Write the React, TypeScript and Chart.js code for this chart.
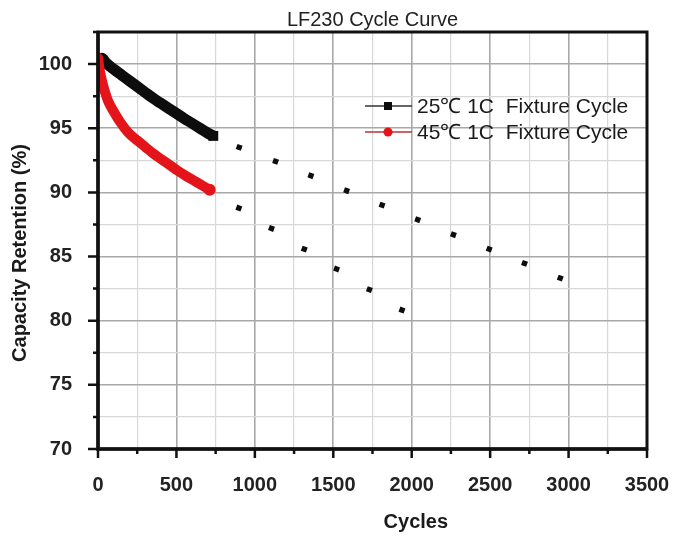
import React, { useEffect, useRef } from "react";
import { Chart, registerables } from "chart.js";

Chart.register(...registerables);

const chartTitle = "LF230 Cycle Curve";
const xAxisTitle = "Cycles";
const yAxisTitle = "Capacity Retention (%)";
const seriesNames = ["25℃ 1C  Fixture Cycle", "45℃ 1C  Fixture Cycle"];

const xTickLabels = [0, 500, 1000, 1500, 2000, 2500, 3000, 3500];
const yTickLabels = [70, 75, 80, 85, 90, 95, 100];

// 25℃ measured curve
const cycles25 = [0, 25, 50, 100, 150, 200, 250, 300, 350, 400, 450, 500, 550, 600, 650, 700, 735];
const retention25 = [100.3, 100.45, 100.1, 99.6, 99.15, 98.7, 98.25, 97.8, 97.35, 96.95, 96.55, 96.15, 95.75, 95.38, 95.0, 94.62, 94.4];

// 45℃ measured curve
const cycles45 = [0, 10, 25, 45, 65, 100, 140, 190, 250, 300, 350, 405, 460, 510, 565, 620, 670, 712];
const retention45 = [100.5, 99.6, 98.7, 97.8, 97.1, 96.3, 95.5, 94.7, 94.05, 93.55, 93.05, 92.57, 92.1, 91.67, 91.25, 90.86, 90.5, 90.2];

// projected (dotted) points
const projCycles25 = [900, 1132, 1357, 1585, 1811, 2038, 2266, 2494, 2719, 2947];
const projRetention25 = [93.51, 92.42, 91.3, 90.13, 89.01, 87.87, 86.7, 85.58, 84.47, 83.32];
const projCycles45 = [898, 1106, 1315, 1521, 1730, 1938];
const projRetention45 = [88.78, 87.19, 85.58, 84.03, 82.42, 80.83];

const FONT = '"Liberation Sans", Arial, Helvetica, sans-serif';
const BLACK = "#0d0d0d";
const RED = "#e3151b";

const toPoints = (xs: number[], ys: number[]) => xs.map((x, i) => ({ x, y: ys[i] }));

const decorPlugin = {
  id: "decor",
  afterDraw(chart: any) {
    const { ctx, chartArea: a, scales } = chart;
    const xs = scales.x;
    const ys = scales.y;
    ctx.save();
    ctx.strokeStyle = "#111";
    ctx.lineCap = "butt";

    // tick marks
    ctx.lineWidth = 2.5;
    ctx.beginPath();
    xs.ticks.forEach((t: any) => {
      const px = xs.getPixelForValue(t.value);
      const len = xTickLabels.includes(t.value) ? 9 : 5;
      ctx.moveTo(px, a.bottom);
      ctx.lineTo(px, a.bottom + len);
    });
    ys.ticks.forEach((t: any) => {
      const py = ys.getPixelForValue(t.value);
      const len = yTickLabels.includes(t.value) ? 10 : 5;
      ctx.moveTo(a.left, py);
      ctx.lineTo(a.left - len, py);
    });
    ctx.stroke();

    // frame
    ctx.lineWidth = 3;
    ctx.strokeRect(a.left, a.top, a.right - a.left, a.bottom - a.top);
    ctx.lineWidth = 3.5;
    ctx.beginPath();
    ctx.moveTo(a.left, a.top);
    ctx.lineTo(a.left, a.bottom);
    ctx.lineTo(a.right, a.bottom);
    ctx.stroke();

    // legend
    const rows = [
      { line: "#333", color: BLACK, style: "rect", dy: 74 },
      { line: "#b83333", color: RED, style: "circle", dy: 100 },
    ];
    ctx.font = `21px ${FONT}`;
    ctx.textAlign = "left";
    ctx.textBaseline = "middle";
    rows.forEach((r, i) => {
      const y = a.top + r.dy;
      const x0 = a.left + 267;
      ctx.strokeStyle = r.line;
      ctx.lineWidth = 1.6;
      ctx.beginPath();
      ctx.moveTo(x0, y);
      ctx.lineTo(x0 + 47, y);
      ctx.stroke();
      ctx.fillStyle = r.color;
      if (r.style === "rect") {
        ctx.fillRect(x0 + 23 - 4, y - 4, 8, 8);
      } else {
        ctx.beginPath();
        ctx.arc(x0 + 23, y, 4.5, 0, Math.PI * 2);
        ctx.fill();
      }
      ctx.fillStyle = "#1a1a1a";
      ctx.fillText(seriesNames[i], x0 + 52, y + 1);
    });

    // axis titles
    ctx.fillStyle = "#1a1a1a";
    ctx.font = `bold 20px ${FONT}`;
    ctx.textAlign = "center";
    ctx.textBaseline = "middle";
    ctx.fillText(xAxisTitle, a.left + (a.right - a.left) * 0.579, a.bottom + 73);
    ctx.save();
    ctx.translate(20, a.top + (a.bottom - a.top) * 0.53);
    ctx.rotate(-Math.PI / 2);
    ctx.fillText(yAxisTitle, 0, 0);
    ctx.restore();

    ctx.restore();
  },
};

export default function App() {
  const canvasRef = useRef<HTMLCanvasElement | null>(null);

  useEffect(() => {
    if (!canvasRef.current) return;
    const last25 = cycles25.length - 1;
    const last45 = cycles45.length - 1;
    const chart = new Chart(canvasRef.current, {
      type: "line",
      data: {
        datasets: [
          {
            label: seriesNames[1],
            data: toPoints(cycles45, retention45),
            borderColor: RED,
            backgroundColor: RED,
            borderWidth: 10,
            borderCapStyle: "round",
            borderJoinStyle: "round",
            cubicInterpolationMode: "monotone",
            pointRadius: (c: any) => (c.dataIndex === last45 ? 6 : 0),
            pointStyle: "circle",
            pointBorderWidth: 0,
          },
          {
            label: seriesNames[0],
            data: toPoints(cycles25, retention25),
            borderColor: BLACK,
            backgroundColor: BLACK,
            borderWidth: 11,
            borderCapStyle: "butt",
            borderJoinStyle: "round",
            cubicInterpolationMode: "monotone",
            pointRadius: (c: any) => (c.dataIndex === last25 ? 7 : 0),
            pointStyle: "rect",
            pointBorderWidth: 0,
          },
          {
            label: "proj25",
            data: toPoints(projCycles25, projRetention25),
            showLine: false,
            borderColor: BLACK,
            backgroundColor: BLACK,
            pointStyle: "rect",
            pointRadius: 3.8,
            pointRotation: 20,
            pointBorderWidth: 0,
          },
          {
            label: "proj45",
            data: toPoints(projCycles45, projRetention45),
            showLine: false,
            borderColor: BLACK,
            backgroundColor: BLACK,
            pointStyle: "rect",
            pointRadius: 3.8,
            pointRotation: 20,
            pointBorderWidth: 0,
          },
        ],
      },
      options: {
        responsive: false,
        animation: false,
        devicePixelRatio: 1,
        layout: { padding: { left: 0, right: 31, top: 0, bottom: 0 } },
        plugins: {
          legend: { display: false },
          tooltip: { enabled: false },
          title: {
            display: true,
            text: chartTitle,
            fullSize: false,
            color: "#222",
            font: { family: FONT, size: 20, weight: "normal", lineHeight: 1.2 },
            padding: { top: 8, bottom: 0 },
          },
        },
        scales: {
          x: {
            type: "linear",
            min: 0,
            max: 3500,
            afterFit: (s: any) => {
              s.height = 89;
              s.paddingLeft = 0;
              s.paddingRight = 0;
            },
            ticks: {
              stepSize: 250,
              autoSkip: false,
              maxRotation: 0,
              padding: 24,
              color: "#222",
              font: { family: FONT, size: 20, weight: "bold" },
              callback: (v: any) => (xTickLabels.includes(Number(v)) ? String(v) : ""),
            },
            grid: {
              drawTicks: false,
              color: (c: any) => (c.tick && xTickLabels.includes(c.tick.value) ? "#a8a8a8" : "#d8d8d8"),
              lineWidth: (c: any) => (c.tick && xTickLabels.includes(c.tick.value) ? 1.6 : 1.2),
            },
            border: { display: false },
          },
          y: {
            type: "linear",
            min: 70,
            max: 102.5,
            afterFit: (s: any) => {
              s.width = 98;
              s.paddingTop = 0;
              s.paddingBottom = 0;
            },
            ticks: {
              stepSize: 2.5,
              autoSkip: false,
              padding: 26,
              color: "#222",
              font: { family: FONT, size: 20, weight: "bold" },
              callback: (v: any) => (yTickLabels.includes(Number(v)) ? String(v) : ""),
            },
            grid: {
              drawTicks: false,
              color: (c: any) => (c.tick && yTickLabels.includes(c.tick.value) ? "#a8a8a8" : "#d8d8d8"),
              lineWidth: (c: any) => (c.tick && yTickLabels.includes(c.tick.value) ? 1.6 : 1.2),
            },
            border: { display: false },
          },
        },
      },
      plugins: [decorPlugin],
    } as any);
    return () => chart.destroy();
  }, []);

  return (
    <div style={{ position: "fixed", left: 0, top: 0, width: 678, height: 538, background: "#fff" }}>
      <canvas ref={canvasRef} width={678} height={538} style={{ display: "block" }} />
    </div>
  );
}
